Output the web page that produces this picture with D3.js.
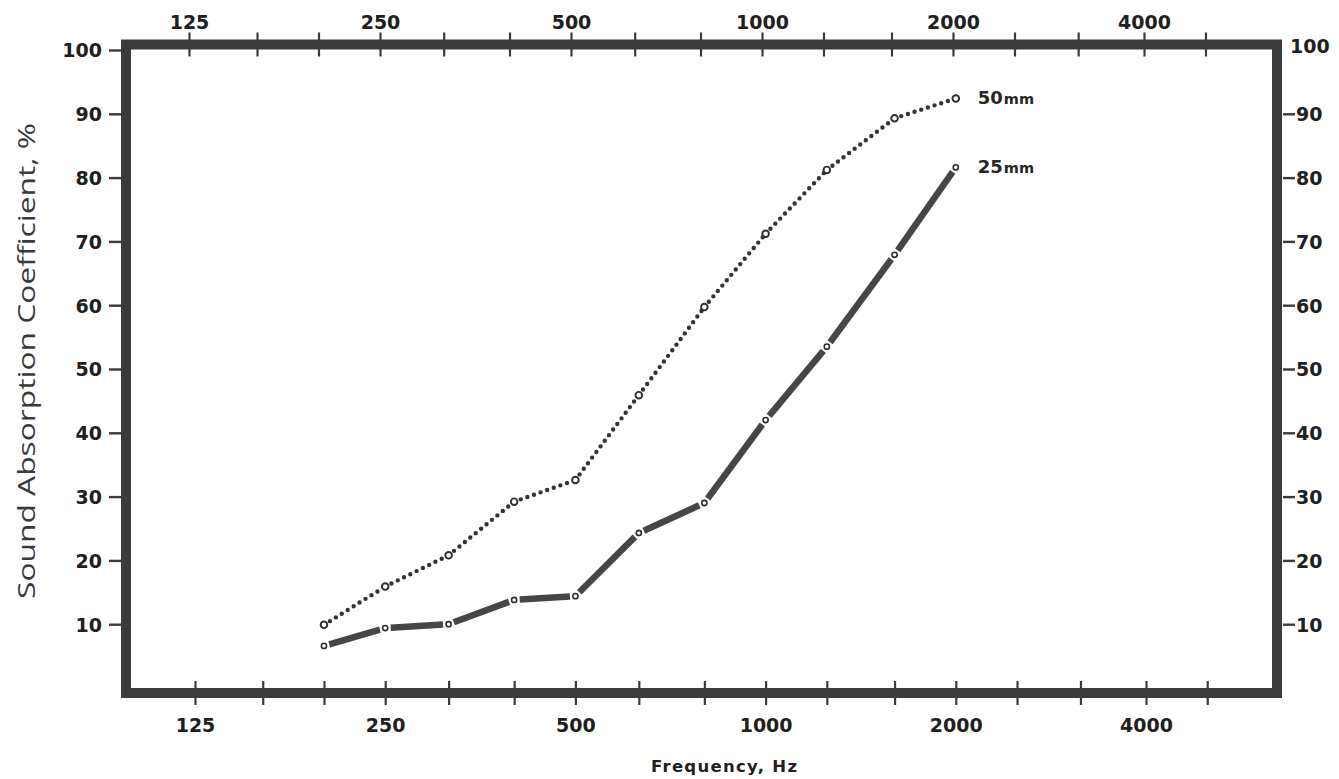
<!DOCTYPE html>
<html>
<head>
<meta charset="utf-8">
<script src="https://cdn.jsdelivr.net/npm/d3@7"></script>
<style>
  html, body { margin: 0; padding: 0; background: #ffffff; }
  svg { display: block; }
  .tick-label { font-family: "DejaVu Sans", sans-serif; font-weight: bold; font-size: 19px; fill: #202020; }
</style>
</head>
<body>
<svg id="chart" width="1339" height="779"></svg>
<script>
// Third-octave band centre frequencies measured (Hz)
const bandFrequencies = [200, 250, 315, 400, 500, 630, 800, 1000, 1250, 1600, 2000];
// Sound absorption coefficient (%) for each panel thickness
const absorption50mm = [9.9, 15.9, 20.8, 29.2, 32.6, 45.9, 59.7, 71.2, 81.2, 89.3, 92.4];
const absorption25mm = [6.6, 9.4, 10.0, 13.8, 14.4, 24.3, 29.0, 42.0, 53.5, 67.9, 81.6];
const seriesNames = ["50mm", "25mm"];

// Axis ticks
const octaveLabels = [125, 250, 500, 1000, 2000, 4000];
const thirdOctaveTicks = [125, 160, 200, 250, 315, 400, 500, 630, 800, 1000, 1250, 1600, 2000, 2500, 3150, 4000, 5000];
const yTickValues = [10, 20, 30, 40, 50, 60, 70, 80, 90, 100];

const svg = d3.select("#chart");
const ink = "#3b3b3b";

// Frame of the plotting area
const frame = { left: 126, top: 44.5, right: 1277, bottom: 693, stroke: 10 };

const x = d3.scaleLog().domain([125, 4000]).range([195, 1146]);
const xTop = d3.scaleLog().domain([125, 4000]).range([189, 1144]);
const y = d3.scaleLinear().domain([0, 100]).range([688, 50]);

svg.append("rect")
  .attr("x", frame.left).attr("y", frame.top)
  .attr("width", frame.right - frame.left)
  .attr("height", frame.bottom - frame.top)
  .attr("fill", "none")
  .attr("stroke", ink)
  .attr("stroke-width", frame.stroke);

// Cross ticks on the bottom and top frame edges
function crossTicks(scale, yCenter) {
  const g = svg.append("g")
    .attr("transform", `translate(0,${yCenter - 12})`)
    .call(d3.axisBottom(scale)
      .tickValues(thirdOctaveTicks)
      .tickFormat("")
      .tickSizeInner(24)
      .tickSizeOuter(0));
  g.select(".domain").remove();
  g.selectAll(".tick line").attr("stroke", ink).attr("stroke-width", 2.2);
}
crossTicks(x, frame.bottom);
crossTicks(xTop, frame.top);

// Octave labels below and above the frame
function octaveAxis(scale, axisFn, yPos) {
  const g = svg.append("g")
    .attr("transform", `translate(0,${yPos})`)
    .call(axisFn(scale)
      .tickValues(octaveLabels)
      .tickFormat(d3.format("d"))
      .tickSize(0)
      .tickPadding(0));
  g.select(".domain").remove();
  g.selectAll(".tick text")
    .attr("class", "tick-label")
    .attr("dy", null)
    .attr("y", 0)
    .attr("fill", null);
  g.attr("font-family", null).attr("font-size", null);
}
octaveAxis(x, d3.axisBottom, 732);
octaveAxis(xTop, d3.axisTop, 29);

// Left value axis
const left = svg.append("g")
  .attr("transform", `translate(${frame.left - 5},0)`)
  .call(d3.axisLeft(y).tickValues(yTickValues).tickSize(12).tickPadding(7));
left.select(".domain").remove();
left.attr("font-family", null).attr("font-size", null);
left.selectAll(".tick line").attr("stroke", ink).attr("stroke-width", 2.4);
left.selectAll(".tick text").attr("class", "tick-label").attr("fill", null).attr("dy", "0.36em");

// Right value axis
const right = svg.append("g")
  .attr("transform", `translate(${frame.right + 6},0)`)
  .call(d3.axisRight(y).tickValues(yTickValues).tickSize(12).tickPadding(2));
right.select(".domain").remove();
right.attr("font-family", null).attr("font-size", null);
right.selectAll(".tick line").attr("stroke", ink).attr("stroke-width", 2.4)
  .attr("display", d => d === 100 ? "none" : null);
right.selectAll(".tick text").attr("class", "tick-label").attr("fill", null).attr("dy", "0.36em")
  .attr("x", d => d === 100 ? 7 : 13)
  .attr("y", d => d === 100 ? -4 : 0);

// Axis titles
svg.append("text")
  .attr("transform", "translate(35,361) rotate(-90)")
  .attr("text-anchor", "middle")
  .attr("font-family", "'Open Sans', sans-serif")
  .attr("font-size", 24)
  .attr("fill", "#3a3a3a")
  .attr("textLength", 476)
  .attr("lengthAdjust", "spacingAndGlyphs")
  .text("Sound Absorption Coefficient, %");

svg.append("text")
  .attr("x", 724).attr("y", 772)
  .attr("text-anchor", "middle")
  .attr("font-family", "'DejaVu Sans', sans-serif")
  .attr("font-weight", "bold")
  .attr("font-size", 16.5)
  .attr("fill", "#202020")
  .attr("textLength", 146)
  .attr("lengthAdjust", "spacing")
  .text("Frequency, Hz");

// Helpers for the curves
const pts = vals => bandFrequencies.map((f, i) => [x(f), y(vals[i])]);
function trimmed(a, b, startGap, endGap) {
  const dx = b[0] - a[0], dy = b[1] - a[1];
  const len = Math.hypot(dx, dy);
  const ux = dx / len, uy = dy / len;
  return [[a[0] + ux * startGap, a[1] + uy * startGap], [b[0] - ux * endGap, b[1] - uy * endGap]];
}

// 50 mm: dotted curve with open circle markers
const p50 = pts(absorption50mm);
const g50 = svg.append("g");
d3.pairs(p50).forEach(([a, b]) => {
  const [s, e] = trimmed(a, b, 7, 4);
  g50.append("line")
    .attr("x1", s[0]).attr("y1", s[1]).attr("x2", e[0]).attr("y2", e[1])
    .attr("stroke", "#333").attr("stroke-width", 4.4)
    .attr("stroke-linecap", "round")
    .attr("stroke-dasharray", "0 7");
});
g50.selectAll("circle").data(p50).join("circle")
  .attr("cx", d => d[0]).attr("cy", d => d[1]).attr("r", 3.3)
  .attr("fill", "#fff").attr("stroke", "#2e2e2e").attr("stroke-width", 1.9);

// 25 mm: heavy segmented curve with small open markers
const p25 = pts(absorption25mm);
const g25 = svg.append("g");
d3.pairs(p25).forEach(([a, b]) => {
  const [s, e] = trimmed(a, b, 5.5, 5.5);
  g25.append("line")
    .attr("x1", s[0]).attr("y1", s[1]).attr("x2", e[0]).attr("y2", e[1])
    .attr("stroke", "#464646").attr("stroke-width", 6.5)
    .attr("stroke-linecap", "butt");
});
g25.selectAll("circle").data(p25).join("circle")
  .attr("cx", d => d[0]).attr("cy", d => d[1]).attr("r", 2.6)
  .attr("fill", "#fff").attr("stroke", "#2e2e2e").attr("stroke-width", 1.6);

// Curve labels at the last point
[[p50, seriesNames[0]], [p25, seriesNames[1]]].forEach(([p, name]) => {
  const last = p[p.length - 1];
  const t = svg.append("text")
    .attr("x", last[0] + 22).attr("y", last[1] + 6)
    .attr("font-family", "'DejaVu Sans', sans-serif")
    .attr("font-weight", "bold")
    .attr("fill", "#262626");
  t.append("tspan").attr("font-size", 18).text(name.slice(0, 2));
  t.append("tspan").attr("font-size", 14.5).attr("dx", 1).text(name.slice(2));
});
</script>
</body>
</html>
